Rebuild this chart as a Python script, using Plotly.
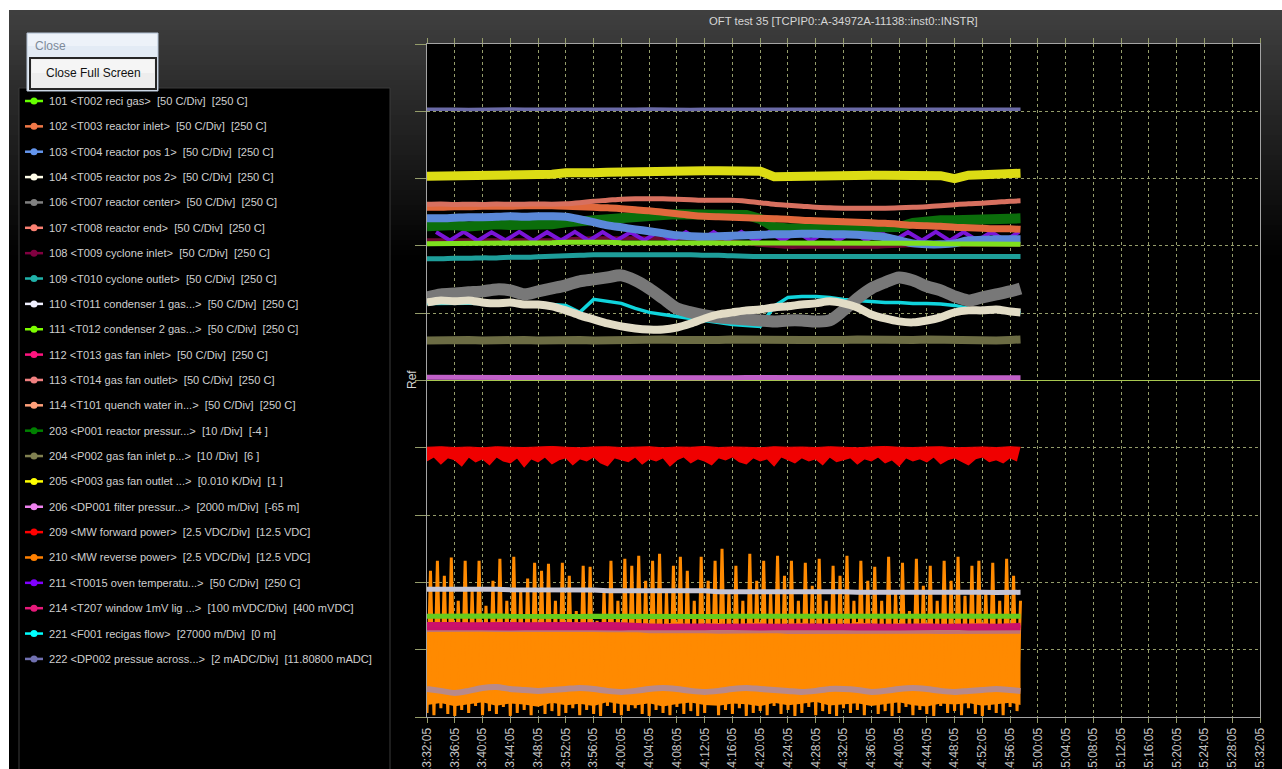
import pandas as pd
import plotly.graph_objects as go

W, H = 1282, 769
FONT = "Liberation Sans, Arial, sans-serif"

START = pd.Timestamp("2014-05-20 13:32:05")
AXIS_END = START + pd.Timedelta(minutes=120)

# ---------------------------------------------------------------- channels
channel_ids = [101, 102, 103, 104, 106, 107, 108, 109, 110, 111, 112, 113, 114,
               203, 204, 205, 206, 209, 210, 211, 214, 221, 222]
channel_labels = [
    "101 <T002 reci gas>  [50 C/Div]  [250 C]",
    "102 <T003 reactor inlet>  [50 C/Div]  [250 C]",
    "103 <T004 reactor pos 1>  [50 C/Div]  [250 C]",
    "104 <T005 reactor pos 2>  [50 C/Div]  [250 C]",
    "106 <T007 reactor center>  [50 C/Div]  [250 C]",
    "107 <T008 reactor end>  [50 C/Div]  [250 C]",
    "108 <T009 cyclone inlet>  [50 C/Div]  [250 C]",
    "109 <T010 cyclone outlet>  [50 C/Div]  [250 C]",
    "110 <T011 condenser 1 gas...>  [50 C/Div]  [250 C]",
    "111 <T012 condenser 2 gas...>  [50 C/Div]  [250 C]",
    "112 <T013 gas fan inlet>  [50 C/Div]  [250 C]",
    "113 <T014 gas fan outlet>  [50 C/Div]  [250 C]",
    "114 <T101 quench water in...>  [50 C/Div]  [250 C]",
    "203 <P001 reactor pressur...>  [10 /Div]  [-4 ]",
    "204 <P002 gas fan inlet p...>  [10 /Div]  [6 ]",
    "205 <P003 gas fan outlet ...>  [0.010 K/Div]  [1 ]",
    "206 <DP001 filter pressur...>  [2000 m/Div]  [-65 m]",
    "209 <MW forward power>  [2.5 VDC/Div]  [12.5 VDC]",
    "210 <MW reverse power>  [2.5 VDC/Div]  [12.5 VDC]",
    "211 <T0015 oven temperatu...>  [50 C/Div]  [250 C]",
    "214 <T207 window 1mV lig ...>  [100 mVDC/Div]  [400 mVDC]",
    "221 <F001 recigas flow>  [27000 m/Div]  [0 m]",
    "222 <DP002 pressue across...>  [2 mADC/Div]  [11.80800 mADC]",
]
per_division = [50, 50, 50, 50, 50, 50, 50, 50, 50, 50, 50, 50, 50,
                10, 10, 0.010, 2000, 2.5, 2.5, 50, 100, 27000, 2]
reference_level = [250, 250, 250, 250, 250, 250, 250, 250, 250, 250, 250, 250, 250,
                   -4, 6, 1, -65, 12.5, 12.5, 250, 400, 0, 11.808]
legend_colors = ["#66ff00", "#f07848", "#6495ed", "#fffde8", "#808080", "#fa8072",
                 "#800040", "#20b2aa", "#f0f0ff", "#7cfc00", "#ff1480", "#f08080",
                 "#ffa07a", "#008000", "#808050", "#ffff00", "#ee82ee", "#ff0000",
                 "#ff8000", "#8000ff", "#e6197a", "#00ffff", "#7070b0"]

# ---------------------------------------------------------------- samples
# slow channels: one reading every 2 minutes, last one at 14:57:35
SLOW_MINUTES = list(range(0, 86, 2)) + [85.5]

t002_reci_gas = [351.6, 351.6, 351.6, 351.9, 351.9, 351.9, 351.9, 351.9, 351.9, 352.3, 352.7,
                 353.0, 352.7, 352.7, 352.3, 352.3, 352.7, 352.7, 352.7, 352.7, 352.7, 352.7,
                 352.7, 352.7, 352.3, 352.3, 352.3, 352.3, 352.3, 352.3, 352.3, 351.9, 351.9,
                 351.9, 351.9, 351.9, 351.9, 351.6, 351.6, 351.6, 351.6, 351.2, 351.2, 351.2]
t003_reactor_inlet = [378.7, 378.7, 379.1, 379.1, 379.5, 379.5, 379.5, 379.8, 379.8, 379.8, 379.5,
                      379.1, 378.7, 378.3, 377.6, 376.8, 376.1, 375.0, 373.9, 372.8, 372.0, 371.6,
                      371.3, 370.9, 370.5, 370.2, 369.8, 369.0, 368.7, 368.3, 367.9, 367.6, 367.2,
                      366.8, 366.1, 365.3, 364.9, 364.6, 363.8, 363.5, 363.1, 362.7, 362.7, 362.3]
t004_reactor_pos1 = [370.5, 370.5, 370.9, 371.3, 371.3, 371.6, 372.0, 371.6, 372.0, 372.0, 371.6,
                     369.8, 367.6, 365.3, 363.8, 362.3, 360.9, 359.4, 357.9, 357.1, 356.8, 357.1,
                     357.5, 357.9, 358.2, 358.6, 358.6, 359.0, 359.0, 358.6, 358.6, 358.2, 357.5,
                     356.4, 354.2, 351.9, 351.2, 351.2, 351.9, 354.2, 354.5, 354.9, 354.9, 354.9]
t005_reactor_pos2 = [308.0, 309.5, 308.8, 309.5, 308.0, 307.3, 308.0, 306.5, 306.5, 305.1, 302.1,
                     298.4, 295.4, 292.4, 290.2, 288.7, 287.9, 287.9, 289.4, 292.4, 296.1, 299.1,
                     300.6, 302.1, 302.8, 304.3, 305.1, 306.5, 307.3, 308.8, 307.3, 304.3, 299.1,
                     296.1, 293.9, 293.2, 294.6, 296.9, 300.6, 302.1, 302.1, 302.8, 301.3, 300.6]
t007_reactor_center = [311.8, 314.0, 314.7, 315.5, 316.2, 317.7, 317.0, 314.0, 316.2, 318.4, 320.7,
                       323.7, 325.1, 326.6, 328.1, 324.4, 318.4, 311.0, 303.6, 300.6, 298.4, 296.9,
                       296.1, 295.4, 294.6, 293.9, 294.6, 294.6, 293.9, 294.6, 302.1, 311.0, 318.4,
                       322.9, 326.6, 324.4, 319.9, 317.0, 312.5, 309.5, 311.8, 314.0, 316.2, 318.4]
t008_reactor_end = [380.9, 381.2, 380.7, 381.0, 380.8, 381.1, 380.9, 381.0, 381.2, 381.0, 381.3,
                    382.1, 383.2, 383.9, 384.7, 385.0, 385.0, 385.0, 384.7, 384.3, 383.9, 383.9,
                    383.9, 383.2, 382.1, 380.9, 380.2, 379.5, 378.7, 378.3, 378.0, 378.0, 378.0,
                    378.0, 378.3, 378.7, 379.1, 379.8, 380.6, 381.3, 381.7, 382.4, 383.2, 383.5]
t009_cyclone_inlet = [354.2, 354.2, 354.2, 354.2, 354.2, 354.2, 354.2, 354.2, 354.2, 354.2, 354.9,
                      355.3, 355.6, 355.6, 355.6, 355.6, 355.6, 355.6, 355.6, 355.6, 354.9, 354.2,
                      353.0, 351.9, 350.8, 350.1, 349.3, 349.3, 349.3, 349.3, 349.3, 349.3, 349.3,
                      349.7, 350.1, 350.4, 350.8, 350.8, 350.8, 350.8, 350.8, 350.8, 350.8, 350.8]
t010_cyclone_outlet = [340.4, 340.4, 340.8, 340.8, 341.1, 341.1, 341.5, 341.5, 341.9, 342.3, 342.6,
                       343.0, 343.4, 343.4, 343.4, 343.4, 343.4, 343.4, 343.4, 343.4, 343.0, 343.0,
                       342.6, 342.3, 342.1, 342.1, 342.1, 342.1, 342.1, 342.1, 342.1, 342.1, 342.1,
                       342.1, 342.1, 342.1, 342.1, 342.1, 342.1, 342.1, 342.1, 342.1, 342.1, 342.1]
t011_condenser1 = [94.9, 95.0, 94.8, 94.9, 95.0, 94.9, 94.5, 94.6, 94.4, 94.5, 94.6,
                   94.5, 94.4, 93.8, 93.9, 93.7, 93.8, 93.9, 93.8, 93.7, 93.8, 93.0,
                   93.1, 92.9, 93.0, 93.1, 93.0, 92.9, 93.0, 93.1, 93.0, 92.6, 92.7,
                   92.5, 92.6, 92.7, 92.6, 92.5, 92.6, 92.7, 92.6, 92.5, 92.6, 92.6]
t012_condenser2 = [74.8, 75.0, 74.7, 74.9, 74.8, 75.1, 74.8, 74.6, 74.9, 74.8, 74.9,
                   74.7, 74.9, 74.8, 75.0, 74.8, 74.7, 74.9, 74.8, 75.0, 74.8, 74.6,
                   74.8, 74.9, 74.7, 74.8, 75.0, 74.8, 74.9, 74.7, 74.8, 74.9, 74.8,
                   74.6, 74.8, 74.9, 74.8, 75.0, 74.7, 74.8, 74.9, 74.8, 74.7, 74.8]
t013_gas_fan_inlet = [66.3, 66.6, 66.1, 66.4, 66.3, 66.7, 66.2, 66.4, 66.0, 66.3, 66.5,
                      66.3, 66.1, 66.4, 66.2, 66.5, 66.3, 66.0, 66.4, 66.2, 66.3, 66.6,
                      66.2, 66.4, 66.1, 66.3, 66.5, 66.2, 66.0, 66.3, 66.4, 66.2, 66.5,
                      66.3, 66.1, 66.4, 66.2, 66.3, 66.6, 66.1, 66.3, 66.4, 66.2, 66.3]
t014_gas_fan_outlet = [65.1, 65.3, 64.9, 65.1, 65.2, 65.0, 65.1, 65.3, 64.9, 65.1, 65.0,
                       65.2, 65.1, 64.9, 65.1, 65.0, 64.0, 64.2, 63.9, 64.1, 64.0, 63.8,
                       64.1, 64.0, 63.9, 64.2, 63.6, 63.7, 63.5, 63.6, 63.8, 63.5, 63.6,
                       63.7, 63.5, 63.6, 63.8, 63.6, 63.5, 63.7, 63.6, 63.4, 63.6, 63.7]
t101_quench_water = [20.8, 19.4, 17.9, 19.4, 21.6, 22.3, 20.8, 20.1, 19.4, 20.1, 20.8,
                     21.6, 20.8, 19.4, 18.6, 19.4, 20.8, 21.6, 20.8, 19.4, 18.6, 19.4,
                     20.8, 21.6, 20.8, 20.1, 19.4, 18.6, 19.4, 20.8, 20.8, 20.1, 18.6,
                     19.4, 20.8, 21.6, 20.8, 19.4, 18.6, 19.4, 20.1, 20.8, 20.1, 19.4]
p001_reactor_pressure = [18.9, 19.1, 19.1, 18.9, 19.1, 19.2, 19.1, 19.1, 19.2, 19.2, 19.5,
                         19.7, 19.8, 20.0, 20.3, 20.4, 20.6, 20.6, 20.7, 20.7, 20.7, 20.8,
                         20.7, 20.6, 20.0, 18.8, 18.6, 18.6, 18.5, 18.5, 18.5, 18.5, 18.5,
                         18.5, 18.8, 19.4, 19.7, 19.8, 19.8, 19.8, 19.9, 20.0, 20.0, 20.1]
p002_gas_fan_inlet = [11.95, 12.03, 11.95, 12.03, 11.95, 12.03, 12.10, 12.03, 11.95, 12.03, 12.10,
                      12.03, 11.95, 12.03, 12.10, 12.03, 12.03, 12.10, 12.03, 11.95, 12.03, 12.03,
                      12.10, 12.03, 11.95, 12.03, 12.10, 12.03, 12.03, 11.95, 12.03, 12.10, 12.03,
                      12.03, 11.95, 12.03, 12.10, 12.03, 12.03, 12.10, 12.03, 11.95, 12.03, 12.10]
p003_gas_fan_outlet = [1.03036, 1.03036, 1.03043, 1.03036, 1.03043, 1.03051, 1.03051, 1.03058, 1.03051, 1.03065, 1.03088,
                       1.03073, 1.03088, 1.03095, 1.03103, 1.03110, 1.03118, 1.03110, 1.03110, 1.03118, 1.03118, 1.03118,
                       1.03110, 1.03118, 1.03110, 1.03028, 1.03036, 1.03043, 1.03051, 1.03051, 1.03065, 1.03051, 1.03051,
                       1.03051, 1.03043, 1.03051, 1.03043, 1.03043, 1.02999, 1.03051, 1.03058, 1.03058, 1.03058, 1.03080]
dp001_filter = [31, 29, 32, 30, 28, 31, 30, 33, 29, 30, 31,
                20, 18, 21, 19, 22, 17, 20, 19, 21, 18, 20,
                19, 22, 18, 20, 21, 17, 19, 20, 22, 18, 20,
                19, 21, 18, 20, 22, 19, 17, 20, 21, 19, 20]
t207_window = [37.6, 38.3, 37.6, 36.9, 37.6, 38.3, 37.6, 36.9, 37.6, 38.3, 37.6,
               36.9, 37.6, 37.6, 36.9, 36.9, 35.4, 34.7, 35.4, 36.2, 35.4, 34.7,
               35.4, 36.2, 35.4, 34.7, 35.4, 36.2, 35.4, 34.7, 35.4, 36.2, 35.4,
               34.7, 35.4, 36.2, 35.4, 34.7, 35.4, 36.2, 35.4, 34.7, 35.4, 36.2]
f001_recigas_flow = [30900, 31000, 30850, 30950, 30900, 31050, 30900, 30950, 30850, 30536, 30134,
                     27321, 32545, 31741, 30938, 28929, 27321, 26518, 25714, 24911, 24107, 23304,
                     22500, 22098, 21696, 29732, 33348, 33750, 33750, 33348, 32545, 32143, 31741,
                     31339, 31339, 30938, 30938, 30737, 30134, 28929, 28125, 28125, 27723, 27321]
dp002_pressure = [19.87, 19.88, 19.87, 19.86, 19.87, 19.87, 19.88, 19.87, 19.86, 19.87, 19.87,
                  19.88, 19.87, 19.87, 19.86, 19.87, 19.88, 19.87, 19.87, 19.86, 19.87, 19.87,
                  19.87, 19.88, 19.87, 19.86, 19.87, 19.87, 19.88, 19.87, 19.87, 19.86, 19.87,
                  19.87, 19.88, 19.87, 19.86, 19.87, 19.87, 19.88, 19.87, 19.87, 19.86, 19.87]

# MW reverse power: solid floor / ceiling of the dense trace (2-minute grid)
mw_reverse_floor = [0.45, 0.52, 0.40, 0.48, 0.55, 0.42, 0.50, 0.46, 0.38, 0.53, 0.44,
                    0.49, 0.41, 0.56, 0.47, 0.43, 0.51, 0.39, 0.48, 0.54, 0.45, 0.42,
                    0.50, 0.47, 0.40, 0.53, 0.44, 0.49, 0.57, 0.43, 0.46, 0.51, 0.41,
                    0.48, 0.55, 0.44, 0.39, 0.50, 0.46, 0.52, 0.42, 0.47, 0.53, 0.45]
mw_reverse_ceiling = [3.45, 3.52, 3.40, 3.48, 3.43, 3.55, 3.38, 3.46, 3.50, 3.42, 3.47,
                      3.53, 3.39, 3.45, 3.51, 3.41, 3.48, 3.44, 3.54, 3.40, 3.46, 3.49,
                      3.42, 3.47, 3.52, 3.39, 3.45, 3.50, 3.43, 3.48, 3.41, 3.53, 3.46,
                      3.40, 3.49, 3.44, 3.51, 3.42, 3.47, 3.45, 3.52, 3.40, 3.48, 3.44]
# MW reverse power swings: minimum each whole minute, maximum half a minute later
mw_reverse_troughs = [0.15, 0.07, 0.33, 0.11, 0.04, 0.26, 0.15, 0.41, 0.07, 0.22,
                      0.11, 0.37, 0.04, 0.15, 0.26, 0.07, 0.48, 0.11, 0.22, 0.04,
                      0.15, 0.33, 0.07, 0.26, 0.11, 0.04, 0.41, 0.15, 0.07, 0.22,
                      0.33, 0.11, 0.04, 0.26, 0.15, 0.07, 0.37, 0.11, 0.22, 0.04,
                      0.15, 0.48, 0.07, 0.26, 0.11, 0.33, 0.04, 0.15, 0.22, 0.07,
                      0.41, 0.11, 0.26, 0.04, 0.15, 0.37, 0.07, 0.22, 0.11, 0.04,
                      0.33, 0.15, 0.26, 0.07, 0.48, 0.11, 0.22, 0.04, 0.15, 0.37,
                      0.07, 0.26, 0.11, 0.04, 0.41, 0.15, 0.22, 0.07, 0.33, 0.11,
                      0.04, 0.26, 0.15, 0.07, 0.37, 0.22]
mw_reverse_peaks = [5.43, 5.80, 5.25, 5.92, 4.32, 5.80, 4.69, 5.80, 4.13, 5.06,
                    5.88, 4.32, 5.95, 4.69, 5.14, 5.73, 5.43, 5.69, 4.32, 5.73,
                    5.25, 3.94, 5.62, 5.58, 3.57, 4.69, 5.80, 4.32, 5.88, 5.62,
                    5.99, 5.06, 5.80, 6.06, 4.69, 5.62, 5.95, 5.43, 4.32, 5.95,
                    5.06, 5.80, 6.25, 4.69, 5.62, 4.32, 6.06, 5.06, 5.80, 4.69,
                    5.99, 5.25, 5.80, 4.32, 5.73, 4.87, 5.88, 4.32, 5.62, 5.25,
                    5.99, 4.32, 5.80, 5.06, 5.58, 4.32, 5.95, 4.69, 5.73, 3.94,
                    5.88, 4.87, 5.62, 4.32, 5.80, 5.06, 5.95, 4.50, 5.62, 5.80,
                    4.69, 5.73, 4.32, 5.88, 5.25, 4.32]

# MW forward power: upper edge (2-minute grid) and lower edge (1-minute grid)
mw_forward_upper = [10.02, 10.04, 10.01, 10.03, 10.00, 10.04, 10.02, 10.01, 10.03, 10.05, 10.02,
                    10.00, 10.03, 10.04, 10.01, 10.02, 10.04, 10.00, 10.03, 10.02, 10.05, 10.01,
                    10.03, 10.02, 10.00, 10.04, 10.02, 10.03, 10.01, 10.04, 10.02, 10.00, 10.03,
                    10.05, 10.02, 10.01, 10.03, 10.04, 10.00, 10.02, 10.03, 10.01, 10.04, 10.02]
mw_forward_lower = [9.52, 9.67, 9.41, 9.64, 9.56, 9.34, 9.67, 9.49, 9.60, 9.38,
                    9.67, 9.52, 9.45, 9.64, 9.30, 9.60, 9.49, 9.67, 9.41, 9.56,
                    9.64, 9.38, 9.60, 9.52, 9.67, 9.45, 9.34, 9.64, 9.56, 9.49,
                    9.67, 9.41, 9.60, 9.52, 9.64, 9.34, 9.56, 9.67, 9.45, 9.60,
                    9.52, 9.38, 9.64, 9.56, 9.67, 9.49, 9.41, 9.64, 9.52, 9.60,
                    9.34, 9.67, 9.56, 9.45, 9.64, 9.52, 9.60, 9.38, 9.67, 9.49,
                    9.56, 9.64, 9.41, 9.60, 9.52, 9.67, 9.45, 9.56, 9.34, 9.64,
                    9.52, 9.60, 9.49, 9.67, 9.41, 9.56, 9.64, 9.52, 9.38, 9.60,
                    9.67, 9.49, 9.56, 9.45, 9.64, 9.52]

# oven temperature: alternating turning points, first one at 13:33:23, every 2 minutes
t0015_oven = [360.3, 354.0, 360.5, 353.8, 360.1, 354.2, 360.4, 353.9, 360.2, 354.1,
              360.5, 353.8, 360.3, 354.0, 360.1, 354.2, 360.4, 353.9, 360.2, 354.0,
              360.3, 354.1, 360.5, 353.8, 360.2, 354.0, 360.4, 353.9, 360.1, 354.2,
              360.3, 354.0, 360.5, 353.8, 360.2, 354.1, 360.4, 353.9, 360.3, 354.0,
              360.2, 354.1, 360.4]


# ---------------------------------------------------------------- helpers
def at(minute):
    return START + pd.Timedelta(minutes=minute)


SCALE = {cid: (pdv, ref) for cid, pdv, ref in zip(channel_ids, per_division, reference_level)}


def divisions(cid, values):
    pdv, ref = SCALE[cid]
    return [(v - ref) / pdv for v in values]


def fx(px):
    return px / W


def fy(py):
    return 1 - py / H


slow_t = [at(m) for m in SLOW_MINUTES]
oven_t = [at(1.3 + 2 * n) for n in range(len(t0015_oven))]
forward_t = [at(m) for m in range(len(mw_forward_lower))]
reverse_t, reverse_v = [], []
for i, (lo, hi) in enumerate(zip(mw_reverse_troughs, mw_reverse_peaks)):
    reverse_t += [at(i), at(i + 0.5)]
    reverse_v += [lo, hi]

fig = go.Figure()


def add_line(cid, t, values, color, width, shape="linear"):
    fig.add_trace(go.Scatter(
        x=t, y=divisions(cid, values), mode="lines", name=str(cid),
        line=dict(color=color, width=width, shape=shape, smoothing=0.8 if shape == "spline" else None),
        hoverinfo="skip", showlegend=False))


REV = "#ff8a00"
# 210 MW reverse power
fig.add_trace(go.Scatter(x=slow_t, y=divisions(210, mw_reverse_floor), mode="lines",
                         line=dict(width=0, color=REV), hoverinfo="skip", showlegend=False))
fig.add_trace(go.Scatter(x=slow_t, y=divisions(210, mw_reverse_ceiling), mode="lines",
                         line=dict(width=0, color=REV), fill="tonexty", fillcolor=REV,
                         hoverinfo="skip", showlegend=False))
add_line(210, reverse_t, reverse_v, REV, 3.0)

# 209 MW forward power
fig.add_trace(go.Scatter(x=slow_t, y=divisions(209, mw_forward_upper), mode="lines",
                         line=dict(width=1, color="#f00000"), hoverinfo="skip", showlegend=False))
fig.add_trace(go.Scatter(x=forward_t, y=divisions(209, mw_forward_lower), mode="lines",
                         line=dict(width=1.5, color="#f00000"), fill="tonexty", fillcolor="#f00000",
                         hoverinfo="skip", showlegend=False))

add_line(204, slow_t, p002_gas_fan_inlet, "#6c6c44", 8)
add_line(206, slow_t, dp001_filter, "#c060c8", 5)
add_line(221, slow_t, f001_recigas_flow, "#10d4dc", 3.5)
add_line(106, slow_t, t007_reactor_center, "#787878", 12, "spline")
add_line(104, slow_t, t005_reactor_pos2, "#e2dcc6", 8, "spline")
add_line(109, slow_t, t010_cyclone_outlet, "#1e9e9a", 5, "spline")
add_line(108, slow_t, t009_cyclone_inlet, "#6e0a32", 4, "spline")
add_line(211, oven_t, t0015_oven, "#7a14d8", 4)
add_line(203, slow_t, p001_reactor_pressure, "#0b6e0b", 10)
add_line(103, slow_t, t004_reactor_pos1, "#5a88d8", 8, "spline")
add_line(101, slow_t, t002_reci_gas, "#7ee01e", 5)
add_line(102, slow_t, t003_reactor_inlet, "#e0683c", 7, "spline")
add_line(107, slow_t, t008_reactor_end, "#d7705f", 5, "spline")
add_line(205, slow_t, p003_gas_fan_outlet, "#dcdc14", 9)
add_line(222, slow_t, dp002_pressure, "#6a6aa6", 3.5)
add_line(114, slow_t, t101_quench_water, "#b88a8a", 6, "spline")
add_line(113, slow_t, t014_gas_fan_outlet, "#c07474", 5)
add_line(112, slow_t, t013_gas_fan_inlet, "#c8106a", 5)
add_line(214, slow_t, t207_window, "#cc106a", 5)
add_line(111, slow_t, t012_condenser2, "#66cc1c", 5)
add_line(110, slow_t, t011_condenser1, "#c4c4d4", 5)

# ---------------------------------------------------------------- decoration
GRID = "#949c6a"
PLOT_L, PLOT_R, PLOT_T, PLOT_B = 427, 1260, 44, 717

shapes = []
# dark-grey header gradient around the plot frame
for i in range(50):
    y0, y1 = 10 + 5 * i, 15 + 5 * i
    lv = max(0, round(64 * (1 - (y0 + 2.5 - 10) / 250)))
    col = f"rgb({lv},{lv},{lv})"
    if y0 < PLOT_T:
        shapes.append(dict(type="rect", xref="paper", yref="paper", x0=0, x1=1,
                           y0=fy(min(y1, PLOT_T)), y1=fy(y0), fillcolor=col,
                           line=dict(width=0), layer="below"))
    if y1 > PLOT_T:
        ya, yb = max(y0, PLOT_T), y1
        for xa, xb in ((0, PLOT_L - 1), (PLOT_R + 1, W)):
            shapes.append(dict(type="rect", xref="paper", yref="paper", x0=fx(xa), x1=fx(xb),
                               y0=fy(yb), y1=fy(ya), fillcolor=col,
                               line=dict(width=0), layer="below"))

# legend panel
shapes.append(dict(type="rect", xref="paper", yref="paper", x0=fx(19), x1=fx(390),
                   y0=fy(790), y1=fy(88), fillcolor="#000000",
                   line=dict(color="#3a3a3a", width=1), layer="above"))

annotations = []
LEG_TOP, LEG_STEP = 101, 25.36
for i, (label, col) in enumerate(zip(channel_labels, legend_colors)):
    yy = LEG_TOP + i * LEG_STEP
    shapes.append(dict(type="line", xref="paper", yref="paper", x0=fx(25), x1=fx(43),
                       y0=fy(yy), y1=fy(yy), line=dict(color=col, width=2.5), layer="above"))
    shapes.append(dict(type="circle", xref="paper", yref="paper", x0=fx(30.5), x1=fx(37.5),
                       y0=fy(yy + 3.5), y1=fy(yy - 3.5), fillcolor=col,
                       line=dict(width=0), layer="above"))
    text = label.replace("<", "&lt;").replace(">", "&gt;").replace("  ", "&nbsp; ")
    annotations.append(dict(xref="paper", yref="paper", x=fx(47), y=fy(yy), text=text,
                            xanchor="left", yanchor="middle", showarrow=False,
                            font=dict(size=11.1, color="#cfcfcf", family=FONT)))

# "Close" pop-up with its button
shapes += [
    dict(type="rect", xref="paper", yref="paper", x0=fx(27), x1=fx(158), y0=fy(91), y1=fy(33),
         fillcolor="#e3ebf5", line=dict(color="#b4c2d4", width=1), layer="above"),
    dict(type="rect", xref="paper", yref="paper", x0=fx(28), x1=fx(157), y0=fy(46), y1=fy(34),
         fillcolor="#edf2f9", line=dict(width=0), layer="above"),
    dict(type="rect", xref="paper", yref="paper", x0=fx(30), x1=fx(156), y0=fy(89), y1=fy(58),
         fillcolor="#ededed", line=dict(color="#262626", width=2), layer="above"),
    dict(type="rect", xref="paper", yref="paper", x0=fx(32), x1=fx(154), y0=fy(73), y1=fy(60),
         fillcolor="#f5f5f5", line=dict(width=0), layer="above"),
]
annotations += [
    dict(xref="paper", yref="paper", x=fx(33), y=fy(46), text="Close", xanchor="left",
         yanchor="middle", showarrow=False, font=dict(size=12, color="#7d8a99", family=FONT)),
    dict(xref="paper", yref="paper", x=fx(93), y=fy(73.5), text="Close Full Screen",
         xanchor="center", yanchor="middle", showarrow=False,
         font=dict(size=12, color="#111111", family=FONT)),
    dict(xref="paper", yref="paper", x=fx(843), y=fy(21),
         text="OFT test 35 [TCPIP0::A-34972A-11138::inst0::INSTR]", xanchor="center",
         yanchor="middle", showarrow=False, font=dict(size=11.3, color="#d6d6d6", family=FONT)),
    dict(xref="paper", yref="paper", x=fx(412), y=fy(380), text="Ref", textangle=-90,
         xanchor="center", yanchor="middle", showarrow=False,
         font=dict(size=12, color="#d6d6d6", family=FONT)),
]

# white window border at top and left
shapes += [
    dict(type="rect", xref="paper", yref="paper", x0=0, x1=1, y0=fy(10), y1=1,
         fillcolor="#ffffff", line=dict(width=0), layer="above"),
    dict(type="rect", xref="paper", yref="paper", x0=0, x1=fx(9), y0=0, y1=1,
         fillcolor="#ffffff", line=dict(width=0), layer="above"),
]

fig.update_layout(
    width=W, height=H, margin=dict(l=0, r=0, t=0, b=0),
    paper_bgcolor="#000000", plot_bgcolor="#000000",
    font=dict(family=FONT, color="#cccccc"),
    showlegend=False, shapes=shapes, annotations=annotations,
    xaxis=dict(
        type="date", domain=[fx(PLOT_L), fx(PLOT_R)], range=[START, AXIS_END],
        tick0=START, dtick=4 * 60 * 1000, tickformat="%H:%M:%S", tickangle=-90,
        tickfont=dict(size=12, color="#c4c4c4", family=FONT),
        showgrid=True, gridcolor=GRID, griddash="dot", gridwidth=1,
        ticks="outside", ticklen=5, tickcolor=GRID, tickwidth=1,
        showline=True, linecolor="#a4a4a4", linewidth=1, mirror="ticks",
        zeroline=False, automargin=False, fixedrange=True,
    ),
    yaxis=dict(
        domain=[fy(PLOT_B), fy(PLOT_T)], range=[-5, 5], dtick=1, tick0=0,
        showticklabels=False, showgrid=True, gridcolor=GRID, griddash="dot", gridwidth=1,
        zeroline=True, zerolinecolor="#a8c850", zerolinewidth=1,
        ticks="outside", ticklen=11, tickcolor=GRID, tickwidth=1,
        showline=True, linecolor="#a4a4a4", linewidth=1, mirror=True,
        automargin=False, fixedrange=True,
    ),
)

fig.write_html("out.html")
